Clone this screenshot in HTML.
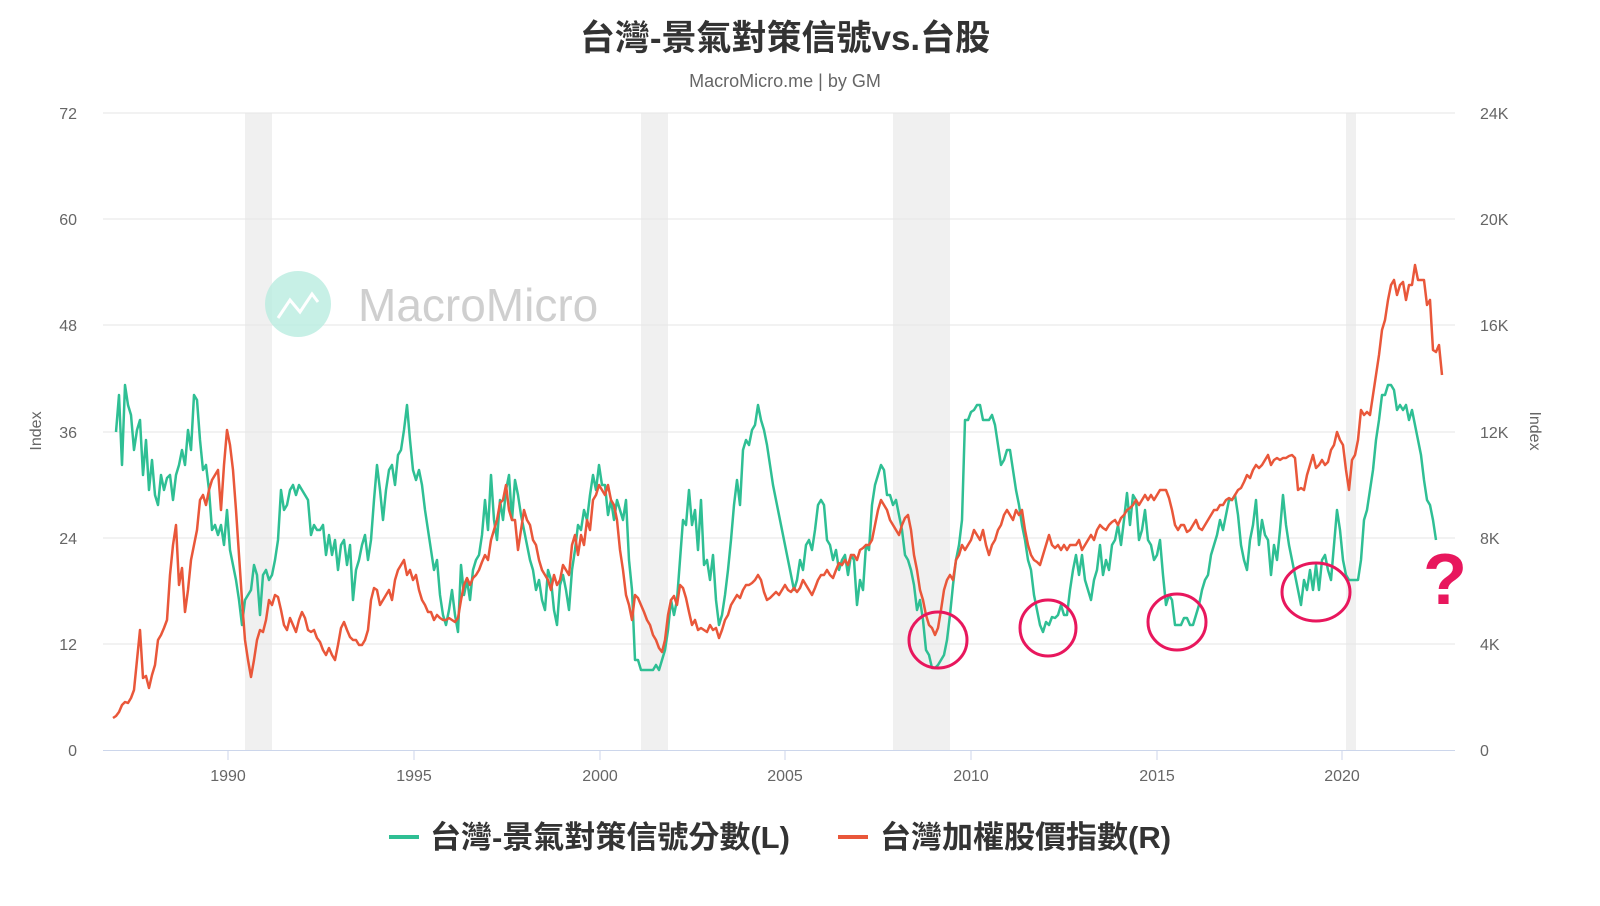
<!DOCTYPE html>
<html><head><meta charset="utf-8"><style>
html,body{margin:0;padding:0;background:#fff;}
body{width:1600px;height:901px;overflow:hidden;font-family:"Liberation Sans","Noto Sans CJK TC",sans-serif;}
</style></head><body>
<svg width="1600" height="901" viewBox="0 0 1600 901" xmlns="http://www.w3.org/2000/svg" font-family="Liberation Sans, Noto Sans CJK TC, sans-serif">
<rect width="1600" height="901" fill="#fff"/>
<!-- recession bands -->
<g fill="#f0f0f0">
<rect x="245" y="113" width="27" height="637"/>
<rect x="641" y="113" width="27" height="637"/>
<rect x="893" y="113" width="57" height="637"/>
<rect x="1346" y="113" width="10" height="637"/>
</g>
<!-- gridlines -->
<g stroke="#e6e6e6" stroke-width="1">
<line x1="103" x2="1455" y1="113" y2="113"/>
<line x1="103" x2="1455" y1="219" y2="219"/>
<line x1="103" x2="1455" y1="325" y2="325"/>
<line x1="103" x2="1455" y1="432" y2="432"/>
<line x1="103" x2="1455" y1="538" y2="538"/>
<line x1="103" x2="1455" y1="644" y2="644"/>
</g>
<line x1="103" x2="1455" y1="750.5" y2="750.5" stroke="#ccd6eb"/>
<g stroke="#ccd6eb"><line x1="228" x2="228" y1="750" y2="760"/><line x1="414" x2="414" y1="750" y2="760"/><line x1="600" x2="600" y1="750" y2="760"/><line x1="785" x2="785" y1="750" y2="760"/><line x1="971" x2="971" y1="750" y2="760"/><line x1="1157" x2="1157" y1="750" y2="760"/><line x1="1342" x2="1342" y1="750" y2="760"/></g>
<!-- watermark -->
<circle cx="298" cy="304" r="33" fill="#b9ece0" opacity="0.8"/>
<polyline points="278,318 290,300 300,312 312,294 318,302" fill="none" stroke="#fff" stroke-width="3"/>
<text x="358" y="321" font-size="46" fill="#cfcfcf">MacroMicro</text>
<!-- title -->
<text x="785" y="50" text-anchor="middle" font-size="35" font-weight="bold" fill="#333">台灣-景氣對策信號vs.台股</text>
<text x="785" y="87" text-anchor="middle" font-size="18" fill="#666">MacroMicro.me | by GM</text>
<!-- left axis -->
<g font-size="16" fill="#666" text-anchor="end">
<text x="77" y="119">72</text><text x="77" y="225">60</text><text x="77" y="331">48</text><text x="77" y="438">36</text><text x="77" y="544">24</text><text x="77" y="650">12</text><text x="77" y="756">0</text>
</g>
<g font-size="16" fill="#666" text-anchor="start">
<text x="1480" y="119">24K</text><text x="1480" y="225">20K</text><text x="1480" y="331">16K</text><text x="1480" y="438">12K</text><text x="1480" y="544">8K</text><text x="1480" y="650">4K</text><text x="1480" y="756">0</text>
</g>
<text transform="translate(41,431) rotate(-90)" text-anchor="middle" font-size="16" fill="#666">Index</text>
<text transform="translate(1530,431) rotate(90)" text-anchor="middle" font-size="16" fill="#666">Index</text>
<g font-size="16" fill="#666" text-anchor="middle">
<text x="228" y="781">1990</text><text x="414" y="781">1995</text><text x="600" y="781">2000</text><text x="785" y="781">2005</text><text x="971" y="781">2010</text><text x="1157" y="781">2015</text><text x="1342" y="781">2020</text>
</g>
<!-- green -->
<polyline fill="none" stroke="#2fbf94" stroke-width="2.5" stroke-linejoin="round" points="116,432 119,395 122,465 125,385 128,405 131,415 134,450 137,430 140,420 143,475 146,440 149,490 152,460 155,495 158,505 161,475 164,490 167,478 170,475 173,500 176,475 179,465 182,450 185,465 188,430 191,450 194,395 197,400 200,440 203,470 206,465 209,490 212,530 215,525 218,535 221,525 224,545 227,510 230,550 233,565 236,580 239,600 242,625 245,600 248,595 251,590 254,565 257,575 260,615 263,575 266,570 269,580 272,575 275,560 278,540 281,490 284,510 287,505 290,490 293,485 296,495 299,485 302,490 305,495 308,500 311,535 314,525 317,530 320,530 323,525 326,555 329,535 332,555 335,540 338,570 341,545 344,540 347,565 350,545 353,600 356,570 359,560 362,545 365,535 368,560 371,540 374,500 377,465 380,490 383,520 386,490 389,470 392,465 395,485 398,455 401,450 404,430 407,405 410,440 413,470 416,480 419,470 422,485 425,510 428,530 431,550 434,570 437,560 440,595 443,615 446,625 449,610 452,590 455,615 458,632 461,565 464,595 467,580 470,600 473,570 476,560 479,555 482,535 485,500 488,530 491,475 494,520 497,540 500,500 503,520 506,490 509,475 512,520 515,480 518,495 521,515 524,530 527,545 530,560 533,570 536,590 539,580 542,600 545,610 548,570 551,580 554,610 557,625 560,585 563,575 566,590 569,610 572,570 575,550 578,525 581,530 584,510 587,520 590,495 593,475 596,490 599,465 602,485 605,485 608,515 611,500 614,520 617,500 620,510 623,520 626,500 629,560 632,590 635,660 638,660 641,670 644,670 647,670 650,670 653,670 656,665 659,670 662,660 665,650 668,630 671,600 674,615 677,600 680,560 683,520 686,525 689,490 692,525 695,510 698,550 701,500 704,565 707,560 710,580 713,555 716,600 719,625 722,615 725,595 728,570 731,540 734,505 737,480 740,505 743,450 746,440 749,445 752,430 755,425 758,405 761,420 764,430 767,445 770,465 773,485 776,500 779,515 782,530 785,545 788,560 791,575 794,590 797,580 800,560 803,570 806,545 809,540 812,550 815,530 818,505 821,500 824,505 827,540 830,545 833,560 836,550 839,570 842,560 845,555 848,575 851,555 854,560 857,605 860,580 863,590 866,545 869,550 872,505 875,485 878,475 881,465 884,470 887,495 890,495 893,505 896,500 899,515 902,530 905,555 908,560 911,570 914,585 917,610 920,600 923,620 926,650 929,655 932,668 935,668 938,665 941,660 944,655 947,640 950,615 953,585 956,560 959,545 962,520 965,420 968,420 971,412 974,410 977,405 980,405 983,420 986,420 989,420 992,415 995,425 998,445 1001,465 1004,460 1007,450 1010,450 1013,470 1016,490 1019,505 1022,525 1025,540 1028,560 1031,570 1034,595 1037,610 1040,625 1043,632 1046,622 1049,625 1052,617 1055,618 1058,615 1061,605 1064,615 1067,615 1070,590 1073,570 1076,555 1079,575 1082,555 1085,580 1088,590 1091,600 1094,580 1097,570 1100,545 1103,575 1106,560 1109,570 1112,545 1115,540 1118,525 1121,545 1124,520 1127,493 1130,525 1133,495 1136,500 1139,540 1142,530 1145,510 1148,540 1151,545 1154,560 1157,555 1160,540 1163,575 1166,605 1169,595 1172,600 1175,625 1178,625 1181,625 1184,618 1187,618 1190,625 1193,625 1196,615 1199,605 1202,590 1205,580 1208,575 1211,555 1214,545 1217,535 1220,520 1223,530 1226,515 1229,500 1232,500 1235,495 1238,515 1241,545 1244,560 1247,570 1250,540 1253,525 1256,500 1259,545 1262,520 1265,535 1268,540 1271,575 1274,545 1277,560 1280,530 1283,495 1286,525 1289,545 1292,560 1295,575 1298,590 1301,605 1304,580 1307,590 1310,570 1313,590 1316,565 1319,590 1322,560 1325,555 1328,570 1331,580 1334,545 1337,510 1340,530 1343,560 1346,575 1349,580 1352,580 1355,580 1358,580 1361,560 1364,520 1367,510 1370,490 1373,470 1376,440 1379,420 1382,395 1385,395 1388,385 1391,385 1394,390 1397,410 1400,405 1403,410 1406,405 1409,420 1412,410 1415,425 1418,440 1421,455 1424,480 1427,500 1430,505 1433,520 1436,540"/>
<!-- red -->
<polyline fill="none" stroke="#e9573a" stroke-width="2.5" stroke-linejoin="round" points="113,718 116,716 119,712 122,705 125,702 128,703 131,698 134,690 137,660 140,630 143,678 146,676 149,688 152,675 155,665 158,640 161,635 164,628 167,620 170,575 173,545 176,525 179,585 182,568 185,612 188,590 191,560 194,545 197,530 200,500 203,495 206,505 209,490 212,480 215,475 218,470 221,510 224,465 227,430 230,445 233,470 236,510 239,555 242,600 245,640 248,660 251,677 254,660 257,640 260,630 263,632 266,620 269,600 272,605 275,595 278,597 281,610 284,625 287,630 290,618 293,625 296,632 299,620 302,612 305,618 308,630 311,632 314,630 317,638 320,642 323,650 326,655 329,648 332,655 335,660 338,645 341,628 344,622 347,630 350,637 353,640 356,640 359,645 362,645 365,640 368,630 371,600 374,588 377,590 380,605 383,600 386,595 389,590 392,600 395,580 398,570 401,565 404,560 407,575 410,570 413,580 416,575 419,590 422,600 425,605 428,612 431,612 434,620 437,615 440,618 443,620 446,620 449,618 452,620 455,622 458,618 461,600 464,585 467,578 470,585 473,578 476,575 479,570 482,562 485,555 488,560 491,540 494,530 497,520 500,503 503,500 506,485 509,510 512,520 515,520 518,550 521,530 524,510 527,520 530,525 533,540 536,545 539,560 542,570 545,575 548,580 551,590 554,575 557,585 560,580 563,565 566,570 569,575 572,545 575,535 578,555 581,535 584,545 587,520 590,530 593,500 596,495 599,485 602,490 605,495 608,485 611,500 614,505 617,520 620,550 623,570 626,595 629,605 632,620 635,595 638,598 641,605 644,612 647,620 650,625 653,635 656,640 659,648 662,652 665,640 668,615 671,600 674,596 677,605 680,585 683,588 686,598 689,612 692,625 695,620 698,630 701,628 704,630 707,632 710,625 713,630 716,628 719,638 722,630 725,620 728,615 731,605 734,600 737,595 740,598 743,590 746,585 749,585 752,583 755,580 758,575 761,580 764,592 767,600 770,598 773,595 776,592 779,595 782,590 785,585 788,590 791,592 794,588 797,592 800,588 803,580 806,585 809,590 812,595 815,588 818,580 821,575 824,575 827,570 830,575 833,578 836,570 839,563 842,565 845,560 848,565 851,555 854,555 857,560 860,550 863,548 866,545 869,545 872,540 875,525 878,510 881,500 884,505 887,510 890,520 893,525 896,530 899,535 902,525 905,518 908,515 911,530 914,555 917,570 920,590 923,600 926,615 929,625 932,628 935,635 938,628 941,610 944,590 947,580 950,575 953,580 956,560 959,555 962,545 965,550 968,545 971,540 974,530 977,535 980,540 983,530 986,545 989,555 992,545 995,540 998,530 1001,525 1004,515 1007,510 1010,515 1013,520 1016,510 1019,515 1022,510 1025,530 1028,545 1031,555 1034,560 1037,562 1040,565 1043,555 1046,545 1049,535 1052,545 1055,548 1058,545 1061,550 1064,545 1067,550 1070,545 1073,545 1076,545 1079,540 1082,550 1085,545 1088,540 1091,535 1094,540 1097,530 1100,525 1103,528 1106,530 1109,525 1112,522 1115,520 1118,525 1121,518 1124,515 1127,510 1130,508 1133,505 1136,500 1139,505 1142,500 1145,495 1148,500 1151,495 1154,500 1157,495 1160,490 1163,490 1166,490 1169,498 1172,510 1175,525 1178,530 1181,525 1184,525 1187,532 1190,530 1193,525 1196,520 1199,528 1202,530 1205,525 1208,520 1211,515 1214,510 1217,510 1220,505 1223,505 1226,500 1229,498 1232,500 1235,495 1238,490 1241,488 1244,482 1247,475 1250,478 1253,470 1256,465 1259,468 1262,465 1265,460 1268,455 1271,465 1274,460 1277,458 1280,460 1283,458 1286,458 1289,456 1292,455 1295,458 1298,490 1301,488 1304,490 1307,475 1310,465 1313,455 1316,468 1319,465 1322,460 1325,465 1328,462 1331,450 1334,445 1337,432 1340,440 1343,445 1346,470 1349,490 1352,460 1355,455 1358,440 1361,410 1364,415 1367,412 1370,415 1373,395 1376,375 1379,355 1382,330 1385,320 1388,300 1391,285 1394,280 1397,295 1400,285 1403,282 1406,300 1409,285 1412,285 1415,265 1418,280 1421,280 1424,280 1427,305 1430,300 1433,350 1436,352 1439,345 1442,375"/>
<!-- circles -->
<g fill="none" stroke="#e8175d" stroke-width="3">
<ellipse cx="938" cy="640" rx="29" ry="28"/>
<ellipse cx="1048" cy="628" rx="28" ry="28"/>
<ellipse cx="1177" cy="622" rx="29" ry="28"/>
<ellipse cx="1316" cy="592" rx="34" ry="29"/>
</g>
<text x="1445" y="604" text-anchor="middle" font-size="72" font-weight="bold" fill="#e8175d" stroke="#fff" stroke-width="4" paint-order="stroke">?</text>
<!-- legend -->
<line x1="389" x2="419" y1="837" y2="837" stroke="#2fbf94" stroke-width="4"/>
<text x="430" y="848" font-size="31" font-weight="bold" fill="#333">台灣-景氣對策信號分數(L)</text>
<line x1="838" x2="868" y1="837" y2="837" stroke="#e9573a" stroke-width="4"/>
<text x="880" y="848" font-size="31" font-weight="bold" fill="#333">台灣加權股價指數(R)</text>
</svg>
</body></html>
